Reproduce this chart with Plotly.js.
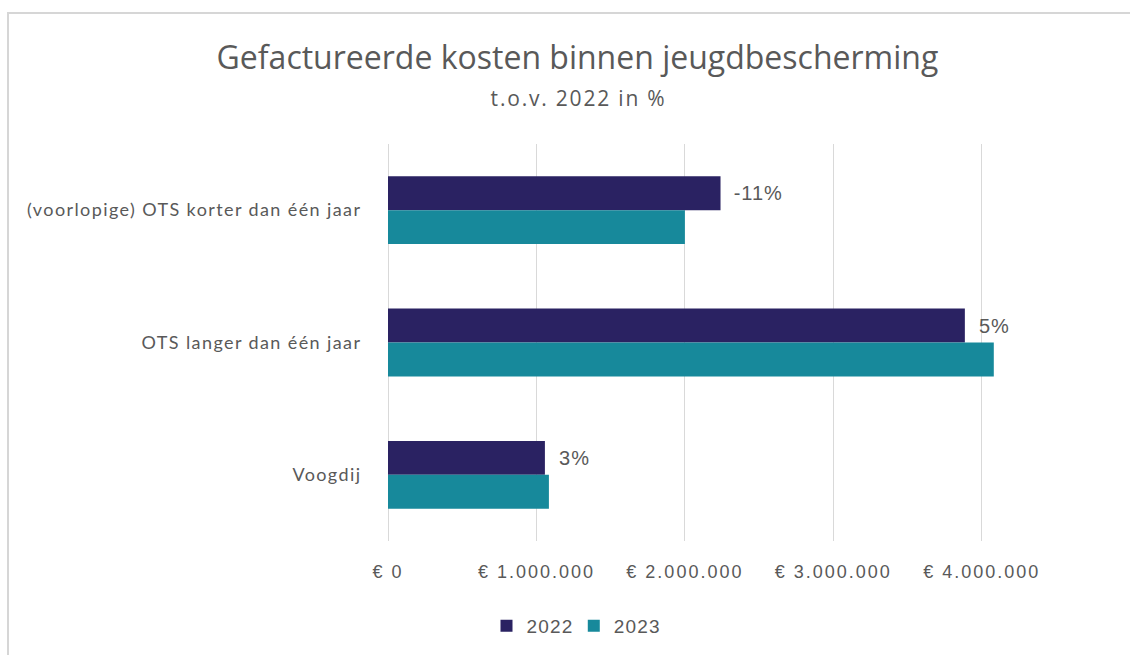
<!DOCTYPE html>
<html>
<head>
<meta charset="utf-8">
<script src="https://cdn.plot.ly/plotly-3.0.1.min.js"></script>
<style>
  html, body { margin: 0; padding: 0; background: #fff; }
  #frame { position: absolute; left: 7px; top: 12px; width: 1130px; height: 650px; border-left: 2px solid #d6d6d6; border-top: 2px solid #d6d6d6; box-sizing: border-box; pointer-events: none; }
  #chart { position: absolute; left: 0; top: 0; width: 1130px; height: 655px; }
  #chart .ytick text { letter-spacing: 1.4px; }
  #chart .xtick text { letter-spacing: 2px; }
  #chart .bartext { letter-spacing: 1px; }
  #chart .annotation-text { letter-spacing: 1.8px; }
  #chart .legendtext { letter-spacing: 1.2px; }
</style>
</head>
<body>
<div id="chart"></div>
<div id="frame"></div>
<script>
// Data
const categories = ["(voorlopige) OTS korter dan één jaar", "OTS langer dan één jaar", "Voogdij"];
const values2022 = [2240000, 3886000, 1057000];
const values2023 = [2000000, 4081000, 1084000];
const changeLabels = ["-11%", "5%", "3%"];
const tickValues = [0, 1000000, 2000000, 3000000, 4000000];
const tickLabels = ["€ 0", "€ 1.000.000", "€ 2.000.000", "€ 3.000.000", "€ 4.000.000"];

const textColor = "#595959";
const pad = "\u00a0\u00a0";

const trace2022 = {
  type: "bar", orientation: "h", name: "2022",
  y: categories, x: values2022,
  marker: { color: "#2a2262" },
  text: changeLabels.map(t => pad + t),
  textposition: "outside",
  textfont: { family: "Liberation Sans, Arial, sans-serif", size: 20, color: textColor },
  constraintext: "none",
  cliponaxis: false,
  hoverinfo: "x+name"
};
const trace2023 = {
  type: "bar", orientation: "h", name: "2023",
  y: categories, x: values2023,
  marker: { color: "#17899b" },
  hoverinfo: "x+name"
};

const layout = {
  width: 1130, height: 655,
  paper_bgcolor: "rgba(0,0,0,0)", plot_bgcolor: "rgba(0,0,0,0)",
  margin: { l: 388, r: 74, t: 144, b: 114, pad: 0 },
  barmode: "group",
  bargap: 0.487,
  bargroupgap: 0,
  title: {
    text: "Gefactureerde kosten binnen jeugdbescherming",
    font: { family: "Open Sans, sans-serif", size: 32, color: textColor },
    xref: "container", x: 0.511, xanchor: "center",
    yref: "container", y: 1 - 58 / 655, yanchor: "middle"
  },
  annotations: [{
    text: "t.o.v. 2022 in %",
    xref: "paper", yref: "paper",
    x: (578 - 388) / 668, y: (541 - 98) / 397,
    xanchor: "center", yanchor: "middle", showarrow: false,
    font: { family: "Open Sans, sans-serif", size: 21, color: textColor }
  }],
  xaxis: {
    range: [0, 4500000],
    tickvals: tickValues, ticktext: tickLabels,
    showgrid: true, gridcolor: "#d9d9d9", gridwidth: 1,
    zeroline: true, zerolinecolor: "#d9d9d9", zerolinewidth: 1,
    showline: false,
    ticks: "outside", ticklen: 14, tickcolor: "rgba(0,0,0,0)",
    tickfont: { family: "Liberation Sans, Arial, sans-serif", size: 18, color: textColor },
    fixedrange: true
  },
  yaxis: {
    autorange: "reversed",
    type: "category",
    showgrid: false, showline: false, zeroline: false,
    ticks: "outside", ticklen: 22, tickcolor: "rgba(0,0,0,0)",
    tickfont: { family: "Lato, sans-serif", size: 18, color: textColor },
    fixedrange: true
  },
  showlegend: true,
  legend: {
    orientation: "h",
    xref: "container", x: 574 / 1130, xanchor: "center",
    yref: "container", y: 1 - 626 / 655, yanchor: "middle",
    font: { family: "Liberation Sans, Arial, sans-serif", size: 19, color: textColor },
    itemwidth: 30,
    traceorder: "normal"
  }
};

Plotly.newPlot("chart", [trace2022, trace2023], layout, { displayModeBar: false });
</script>
</body>
</html>
